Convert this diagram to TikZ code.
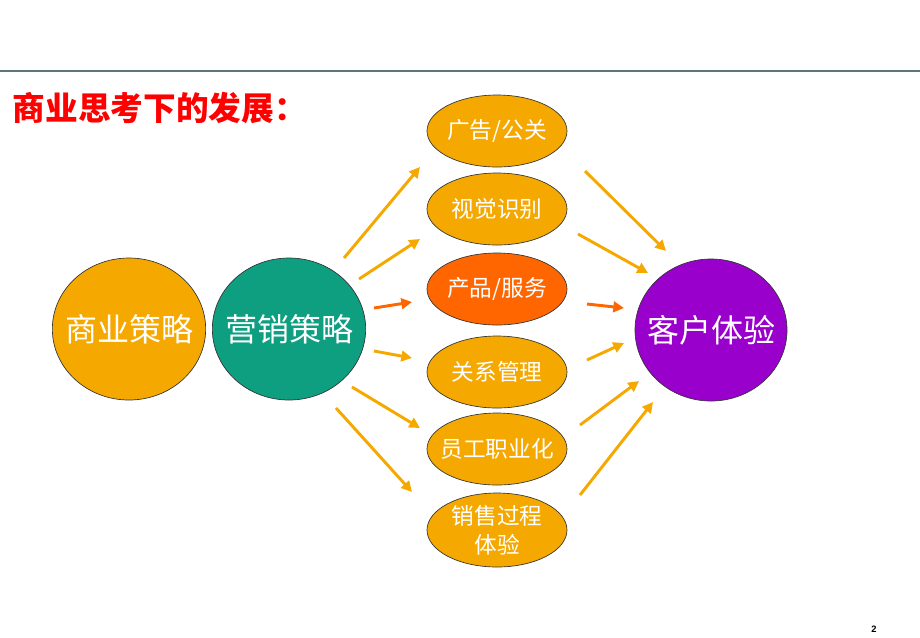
\documentclass[tikz,border=0pt]{standalone}
\usepackage{fontspec}
\usepackage{tikz}
\usetikzlibrary{shapes.geometric,arrows.meta}
\setmainfont{Liberation Sans}
\newfontfamily\cjk{Noto Sans CJK SC}
\definecolor{amber}{HTML}{F5A800}
\definecolor{mktgreen}{HTML}{0E9E80}
\definecolor{purp}{HTML}{9900CC}
\definecolor{redorange}{HTML}{FF6600}
\definecolor{rulegray}{HTML}{5F7380}

\begin{document}
\begin{tikzpicture}[x=0.75pt,y=-0.75pt,
  bigcircle/.style={ellipse,draw=black!80,line width=0.5pt,minimum width=115pt,minimum height=106.5pt,inner ysep=0pt,inner xsep=-8pt,text=white,font=\cjk\fontsize{24}{28}\selectfont},
  smallell/.style={ellipse,draw=black!80,line width=0.5pt,fill=amber,minimum width=105pt,minimum height=54pt,inner ysep=0pt,inner xsep=-6pt,text=white,align=center,font=\cjk\fontsize{17}{22}\selectfont},
  arr/.style={-{Triangle[length=8pt,width=8pt]},line width=2.2pt,amber},
  hot/.style={arr,redorange}]
\useasboundingbox (0,0) rectangle (920,637);
\draw[rulegray,line width=1.5pt] (0,71) -- (920,71);
\node[anchor=west,text=red,font=\cjk\bfseries\fontsize{24.5}{28}\selectfont] (title) at (8,108) {商业思考下的发展：};
\node[bigcircle,fill=amber] (biz) at (129,329) {商业策略};
\node[bigcircle,fill=mktgreen] (mkt) at (289,329) {营销策略};
\node[bigcircle,fill=purp,minimum width=114pt] (cx) at (711,330) {客户体验};
\node[smallell] (ad) at (497,131) {广告/公关};
\node[smallell] (vi) at (497,209) {视觉识别};
\node[smallell,fill=redorange] (prod) at (497,289) {产品/服务};
\node[smallell] (crm) at (497,372) {关系管理};
\node[smallell] (staff) at (497,449) {员工职业化};
\node[smallell,minimum height=55.5pt] (sale) at (497,530) {销售过程\\体验};
% arrows out of the marketing circle and into the customer circle
\foreach \n/\st/\sx/\sy/\ex/\ey in {l1/arr/344/258/420/167, l2/arr/359/279/420/239,
    l3/hot/374/308/412/302, l4/arr/374/351/412/358, l5/arr/352/387/420/428,
    l6/arr/336/408/412/492, r1/arr/585/171/666/251, r2/arr/578/234/648/273,
    r3/hot/587/304/624/308, r4/arr/587/360/624/343, r5/arr/580/425/639/381,
    r6/arr/580/495/653/402}{
  \coordinate (\n s) at (\sx,\sy);
  \coordinate (\n e) at (\ex,\ey);
  \draw[\st] (\n s) -- (\n e);
}
\node[font=\bfseries\fontsize{7}{8}\selectfont] (pg) at (874,629) {2};
\end{tikzpicture}
\end{document}
